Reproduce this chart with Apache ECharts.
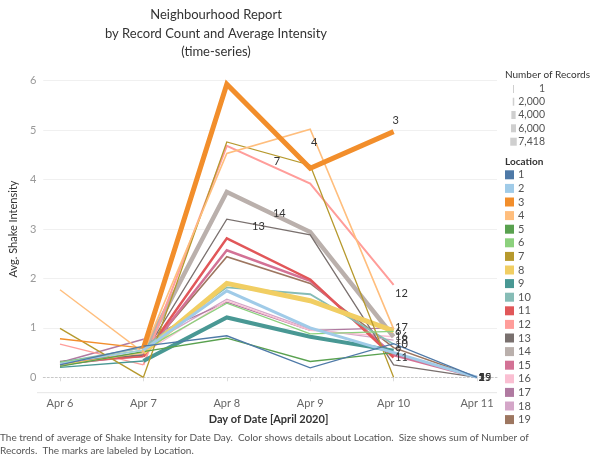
<!DOCTYPE html>
<html><head><meta charset="utf-8">
<script src="https://cdn.jsdelivr.net/npm/echarts@6/dist/echarts.min.js"></script>
<style>html,body{margin:0;padding:0;background:#fff}#c{width:600px;height:459px}</style>
</head><body><div id="c"></div>
<script>
// ---------- data ----------
const dates = ['Apr 6','Apr 7','Apr 8','Apr 9','Apr 10','Apr 11'];
const locations = ['1','2','3','4','5','6','7','8','9','10','11','12','13','14','15','16','17','18','19'];
const loc1  = [0.25, 0.63, 0.84, 0.19, 0.68, 0];
const loc2  = [0.28, 0.55, 1.75, 1.00, 0.50, 0];
const loc3  = [0.78, 0.59, 5.93, 4.23, 4.97, null];
const loc4  = [1.77, 0.50, 4.53, 5.02, 0.98, null];
const loc5  = [0.22, 0.52, 0.79, 0.32, 0.50, 0];
const loc6  = [0.30, 0.55, 1.50, 0.88, 0.93, null];
const loc7  = [0.99, 0.00, 4.76, 4.29, 0.00, null];
const loc8  = [0.25, 0.50, 1.90, 1.55, 0.94, null];
const loc9  = [0.20, 0.33, 1.21, 0.82, 0.54, null];
const loc10 = [0.30, 0.60, 1.82, 1.68, 0.67, null];
const loc11 = [0.30, 0.42, 2.81, 1.98, 0.40, null];
const loc12 = [0.67, 0.25, 4.68, 3.92, 1.87, null];
const loc13 = [0.32, 0.45, 3.20, 2.88, 0.25, 0];
const loc14 = [0.30, 0.50, 3.75, 2.94, 0.82, null];
const loc15 = [0.28, 0.42, 2.57, 1.95, 0.45, 0];
const loc16 = [0.30, 0.48, 1.55, 0.95, 0.82, null];
const loc17 = [0.30, 0.77, 1.52, 0.95, 1.00, null];
const loc18 = [0.28, 0.60, 1.58, 0.98, 0.75, null];
const loc19 = [0.25, 0.45, 2.44, 1.90, 0.60, 0];
const yTicks = [0,1,2,3,4,5,6];
const recordLegendLabels = ['1','2,000','4,000','6,000','7,418'];
const captionLines = [
  'The trend of average of Shake Intensity for Date Day.  Color shows details about Location.  Size shows sum of Number of',
  'Records.  The marks are labeled by Location.'
];

// ---------- styling ----------
const values = [loc1,loc2,loc3,loc4,loc5,loc6,loc7,loc8,loc9,loc10,loc11,loc12,loc13,loc14,loc15,loc16,loc17,loc18,loc19];
const colors = ['#4e79a7','#a0cbe8','#f28e2b','#ffbe7d','#59a14f','#8cd17d','#b6992d','#f1ce63','#499894','#86bcb6','#e15759','#ff9d9a','#79706e','#bab0ac','#d37295','#fabfd2','#b07aa1','#d4a6c8','#9d7660'];
const widths = {'3':5,'8':5,'9':4,'14':4.5,'2':3,'11':2.5,'15':2.5,'12':2,'19':1.6,'10':1.8,'4':1.6};
const FONT = 'Lato';
const labelSpec = {
  '3':{x:4,dx:2,dy:-11,pos:'inside'},
  '12':{x:4,dx:1,dy:8.5,pos:'right'},
  '4':{x:3,dx:4,dy:13.5,pos:'inside'},
  '7':{x:2.6,dx:0,dy:6,pos:'inside'},
  '14':{x:2.63,dx:0,dy:-3.5,pos:'inside'},
  '13':{x:2.38,dx:0,dy:1,pos:'inside'},
  '6':{x:4,dx:1,dy:0,pos:'right'},'9':{x:4,dx:1,dy:0,pos:'right'},'10':{x:4,dx:1,dy:0,pos:'right'},
  '11':{x:4,dx:1,dy:0,pos:'right'},'16':{x:4,dx:1,dy:0,pos:'right'},'17':{x:4,dx:1,dy:0,pos:'right'},
  '18':{x:4,dx:1,dy:0,pos:'right'},
  '1':{x:5,dx:1,dy:0,pos:'right'},'2':{x:5,dx:1,dy:0,pos:'right'},'5':{x:5,dx:1,dy:0,pos:'right'},
  '15':{x:5,dx:1,dy:0,pos:'right'},'19':{x:5,dx:1,dy:0,pos:'right'}
};
function yAt(arr, x){
  const a = Math.floor(x), b = Math.ceil(x);
  if (a === b) return arr[a];
  return arr[a] + (x - a) * (arr[b] - arr[a]);
}

const series = [];
for (let k = locations.length - 1; k >= 0; k--) {
  const name = locations[k], arr = values[k], col = colors[k];
  const w = widths[name] || 1.3;
  series.push({
    name, type:'line', xAxisIndex:1, yAxisIndex:1, symbol:'none', silent:true,
    lineStyle:{color:col, width:1.4}, itemStyle:{color:col},
    data: arr.map((v,i)=> i<=1 ? [i,v] : [i,null]), z:2
  });
  const spec = labelSpec[name];
  const mp = spec ? {
    silent:true, symbol:'circle', symbolSize:1, itemStyle:{color:'rgba(0,0,0,0)'},
    data:[{coord:[spec.x, yAt(arr, spec.x)], value:name,
      label:{show:true, position:spec.pos, distance:spec.dx, offset: spec.pos==='inside'?[spec.dx,spec.dy]:[0,spec.dy],
        formatter:name, color:'#333', fontSize:11, fontFamily:FONT}}]
  } : undefined;
  series.push({
    name, type:'line', xAxisIndex:1, yAxisIndex:1, symbol:'none', silent:true,
    lineStyle:{color:col, width:w, join:'miter'}, itemStyle:{color:col},
    data: arr.map((v,i)=> i>=1 ? [i,v] : [i,null]), z:3,
    markPoint: mp
  });
}

const graphic = [
  {type:'text', x:216, y:15, style:{text:'Neighbourhood Report', font:'13px '+FONT, fill:'#333', textAlign:'center', textVerticalAlign:'middle'}},
  {type:'text', x:216, y:33.5, style:{text:'by Record Count and Average Intensity', font:'13px '+FONT, fill:'#333', textAlign:'center', textVerticalAlign:'middle'}},
  {type:'text', x:216, y:52, style:{text:'(time-series)', font:'13px '+FONT, fill:'#333', textAlign:'center', textVerticalAlign:'middle'}},
  {type:'line', shape:{x1:37,y1:392.7,x2:497,y2:392.7}, style:{stroke:'#e6e6e6', lineWidth:1}},
  {type:'text', x:505, y:75, style:{text:'Number of Records', font:'10px '+FONT, fill:'#333', textVerticalAlign:'middle'}},
  {type:'text', x:505, y:162, style:{text:'Location', font:'bold 10px '+FONT, fill:'#333', textVerticalAlign:'middle'}},
  {type:'text', x:0, y:438, style:{text:captionLines[0], font:'10px '+FONT, fill:'#555', textVerticalAlign:'middle'}},
  {type:'text', x:0, y:451, style:{text:captionLines[1], font:'10px '+FONT, fill:'#555', textVerticalAlign:'middle'}}
];
const barW = [1,1.5,4.3,5,6.5];
const itemY = [89,101.7,115,128.3,141.7];
recordLegendLabels.forEach((t,i)=>{
  graphic.push({type:'rect', shape:{x:513.5-barW[i]/2, y:itemY[i]-4, width:barW[i], height:8}, style:{fill:'#cfcfcf'}});
  graphic.push({type:'text', x:545, y:itemY[i], style:{text:t, font:'10.5px '+FONT, fill:'#555', textAlign:'right', textVerticalAlign:'middle'}});
});

const option = {
  animation:false,
  textStyle:{fontFamily:FONT},
  grid:[
    {left:37, right:103, top:80.7, bottom:81.7},
    {left:60, right:123, top:80.7, bottom:81.7}
  ],
  xAxis:[
    {gridIndex:0, type:'value', min:0, max:1, axisLabel:{show:false}, axisTick:{show:false}, splitLine:{show:false},
     axisLine:{show:true, lineStyle:{color:'#c8c8c8', type:[2,2], width:1}}},
    {gridIndex:1, type:'value', min:0, max:5, interval:1, offset:15.4,
     axisLine:{show:false}, axisTick:{show:true, length:4, lineStyle:{color:'#dcdcdc'}}, splitLine:{show:false},
     axisLabel:{color:'#666', fontSize:11, margin:5, formatter:v=>dates[v]},
     name:'Day of Date [April 2020]', nameLocation:'middle', nameGap:21,
     nameTextStyle:{color:'#333', fontSize:11, fontWeight:'bold'}}
  ],
  yAxis:[
    {gridIndex:0, type:'value', min:yTicks[0], max:yTicks[yTicks.length-1], interval:1,
     axisLine:{show:false}, axisTick:{show:false},
     axisLabel:{color:'#999', fontSize:11, margin:7},
     splitLine:{show:true, lineStyle:{color:['rgba(0,0,0,0)','#f0f0f0','#f0f0f0','#f0f0f0','#f0f0f0','#f0f0f0','#f0f0f0'], width:1}},
     name:'Avg. Shake Intensity', nameLocation:'middle', nameGap:22, nameRotate:90,
     nameTextStyle:{color:'#333', fontSize:11}},
    {gridIndex:1, type:'value', min:0, max:6, show:false}
  ],
  legend:{
    orient:'vertical', left:505, top:168, padding:0, itemGap:0, itemWidth:9, itemHeight:9,
    icon:'rect', selectedMode:false, data:locations,
    textStyle:{color:'#555', fontSize:11, lineHeight:13.6, padding:[0,0,0,-1]}
  },
  series, graphic
};
const chart = echarts.init(document.getElementById('c'), null, {renderer:'canvas'});
chart.setOption(option);
</script></body></html>
